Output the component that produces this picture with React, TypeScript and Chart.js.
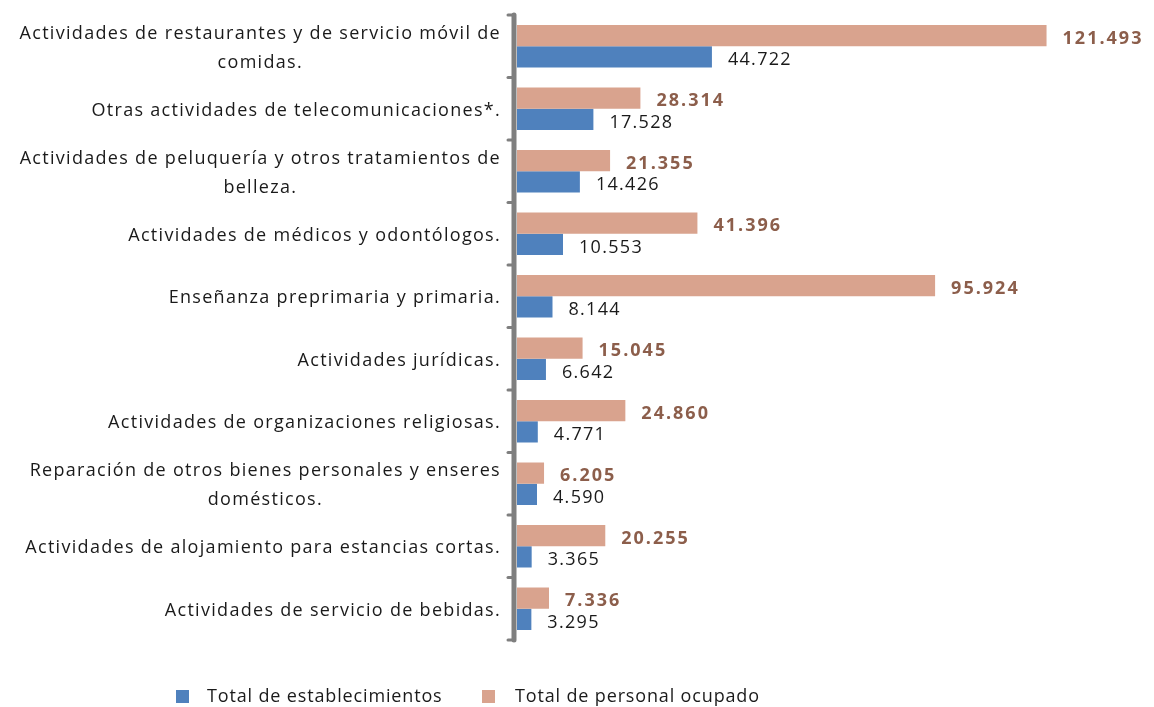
import React, { useEffect, useRef } from "react";
import { Chart, registerables } from "chart.js";

Chart.register(...registerables);

const categories: string[][] = [
  ["Actividades de restaurantes y de servicio móvil de", "comidas."],
  ["Otras actividades de telecomunicaciones*."],
  ["Actividades de peluquería y otros tratamientos de", "belleza."],
  ["Actividades de médicos y odontólogos."],
  ["Enseñanza preprimaria y primaria."],
  ["Actividades jurídicas."],
  ["Actividades de organizaciones religiosas."],
  ["Reparación de otros bienes personales y enseres", "domésticos."],
  ["Actividades de alojamiento para estancias cortas."],
  ["Actividades de servicio de bebidas."],
];

const establecimientos = [44722, 17528, 14426, 10553, 8144, 6642, 4771, 4590, 3365, 3295];
const personalOcupado = [121493, 28314, 21355, 41396, 95924, 15045, 24860, 6205, 20255, 7336];

const seriesNames = ["Total de establecimientos", "Total de personal ocupado"];

const BLUE = "#4f81bd";
const PINK = "#d9a38e";
const BROWN = "#8c5e4b";
const AXIS = "#7f7f7f";
const TEXT = "#1a1a1a";
const FONT = '"Open Sans", "Noto Sans", sans-serif';

const fmt = (v: number) => String(v).replace(/\B(?=(\d{3})+(?!\d))/g, ".");

const setSpacing = (ctx: any, px: number) => {
  ctx.letterSpacing = `${px}px`;
};

const customPlugin = {
  id: "custom",
  afterDatasetsDraw(chart: any) {
    const ctx = chart.ctx as CanvasRenderingContext2D;
    const y = chart.scales.y;
    const area = chart.chartArea;
    ctx.save();
    // axis line
    const ax = area.left - 3;
    const top = y.getPixelForValue(-0.5);
    const bottom = y.getPixelForValue(categories.length - 0.5);
    ctx.strokeStyle = AXIS;
    ctx.lineCap = "round";
    ctx.lineWidth = 3;
    for (let i = 0; i <= categories.length; i++) {
      const py = y.getPixelForValue(i - 0.5);
      ctx.beginPath();
      ctx.moveTo(ax - 6, py);
      ctx.lineTo(ax, py);
      ctx.stroke();
    }
    ctx.lineWidth = 5;
    ctx.beginPath();
    ctx.moveTo(ax, top);
    ctx.lineTo(ax, bottom);
    ctx.stroke();

    // category labels
    ctx.fillStyle = TEXT;
    ctx.font = `18px ${FONT}`;
    setSpacing(ctx, 1.3);
    ctx.textBaseline = "middle";
    ctx.textAlign = "center";
    const right = 501;
    const lh = 29;
    categories.forEach((lines, i) => {
      const cy = y.getPixelForValue(i) + 2;
      const w = Math.max(...lines.map((l) => ctx.measureText(l).width));
      const cx = right - w / 2;
      const y0 = cy - ((lines.length - 1) * lh) / 2;
      lines.forEach((l, k) => ctx.fillText(l, cx, y0 + k * lh));
    });

    // value labels
    ctx.textAlign = "left";
    chart.data.datasets.forEach((ds: any, di: number) => {
      const meta = chart.getDatasetMeta(di);
      if (di === 0) {
        ctx.font = `bold 18px ${FONT}`;
        setSpacing(ctx, 2);
        ctx.fillStyle = BROWN;
      } else {
        ctx.font = `18px ${FONT}`;
        setSpacing(ctx, 1.3);
        ctx.fillStyle = TEXT;
      }
      meta.data.forEach((el: any, i: number) => {
        ctx.fillText(fmt(ds.data[i]), el.x + 16, el.y + 3);
      });
    });

    // legend
    const ly = 697;
    ctx.font = `18px ${FONT}`;
    setSpacing(ctx, 0.85);
    ctx.fillStyle = BLUE;
    ctx.fillRect(176, ly - 7, 13, 13);
    ctx.fillStyle = TEXT;
    ctx.fillText(seriesNames[0], 207, ly);
    ctx.fillStyle = PINK;
    ctx.fillRect(482, ly - 7, 13, 13);
    ctx.fillStyle = TEXT;
    ctx.fillText(seriesNames[1], 515, ly);
    ctx.restore();
  },
};

export default function App() {
  const ref = useRef<HTMLCanvasElement | null>(null);
  useEffect(() => {
    document.body.style.margin = "0";
    const canvas = ref.current!;
    const chart = new Chart(canvas, {
      type: "bar",
      data: {
        labels: categories.map((c) => c.join(" ")),
        datasets: [
          {
            label: seriesNames[1],
            data: personalOcupado,
            backgroundColor: PINK,
            categoryPercentage: 0.68,
            barPercentage: 1,
          },
          {
            label: seriesNames[0],
            data: establecimientos,
            backgroundColor: BLUE,
            categoryPercentage: 0.68,
            barPercentage: 1,
          },
        ],
      },
      options: {
        indexAxis: "y",
        responsive: false,
        devicePixelRatio: 1,
        animation: false,
        layout: { padding: { top: 15, bottom: 67, right: 5, left: 0 } },
        plugins: { legend: { display: false }, tooltip: { enabled: false } },
        scales: {
          x: { display: false, min: 0, max: 145000 },
          y: {
            grid: { display: false },
            border: { display: false },
            ticks: { display: false },
            afterFit: (s: any) => {
              s.width = 517;
            },
          },
        },
      },
      plugins: [customPlugin],
    });
    return () => chart.destroy();
  }, []);
  return (
    <div style={{ position: "absolute", left: 0, top: 0, width: 1154, height: 707, background: "#fff" }}>
      <canvas ref={ref} width={1154} height={707} />
    </div>
  );
}
